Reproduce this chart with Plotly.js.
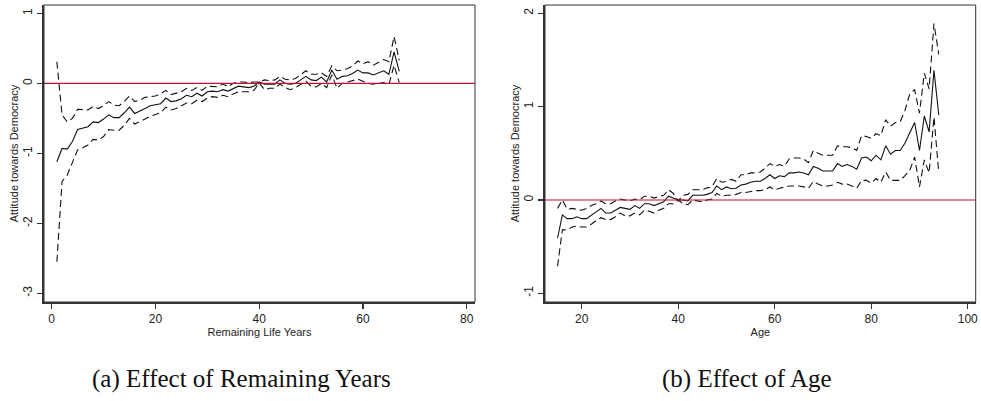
<!DOCTYPE html>
<html>
<head>
<meta charset="utf-8">
<script src="https://cdn.plot.ly/plotly-3.0.1.min.js"></script>
<style>html,body{margin:0;padding:0;background:#fff;}#chart{width:981px;height:401px;}</style>
</head>
<body>
<div id="chart"></div>
<script>
// Panel (a): effect of remaining life years
const remYears = [];
for (let i = 1; i <= 67; i++) remYears.push(i);
const remCoef = [-1.12,-0.93,-0.94,-0.83,-0.66,-0.64,-0.62,-0.55,-0.56,-0.51,
  -0.45,-0.49,-0.49,-0.42,-0.34,-0.43,-0.40,-0.36,-0.32,-0.31,
  -0.29,-0.21,-0.26,-0.25,-0.22,-0.17,-0.19,-0.14,-0.18,-0.12,
  -0.11,-0.12,-0.09,-0.11,-0.08,-0.04,-0.05,-0.06,-0.04,0.02,
  -0.01,-0.01,-0.01,0.05,0.00,-0.01,0.00,0.05,0.10,0.05,
  0.04,0.09,0.02,0.19,0.06,0.10,0.11,0.14,0.19,0.15,
  0.15,0.12,0.15,0.18,0.13,0.45,0.17];
const remUpper = [0.31,-0.45,-0.55,-0.50,-0.37,-0.38,-0.38,-0.33,-0.36,-0.32,
  -0.26,-0.31,-0.32,-0.26,-0.18,-0.26,-0.24,-0.20,-0.19,-0.18,
  -0.15,-0.10,-0.16,-0.14,-0.12,-0.07,-0.10,-0.06,-0.10,-0.04,
  -0.04,-0.05,-0.01,-0.05,0.00,0.02,0.02,0.01,0.02,0.02,
  0.05,0.04,0.05,0.10,0.06,0.05,0.07,0.12,0.18,0.13,
  0.13,0.15,0.10,0.25,0.18,0.19,0.21,0.25,0.32,0.28,
  0.31,0.26,0.30,0.34,0.31,0.67,0.33];
const remLower = [-2.55,-1.40,-1.31,-1.14,-0.95,-0.92,-0.88,-0.80,-0.81,-0.76,
  -0.66,-0.67,-0.67,-0.60,-0.50,-0.58,-0.55,-0.51,-0.47,-0.45,
  -0.42,-0.34,-0.38,-0.36,-0.32,-0.28,-0.29,-0.24,-0.26,-0.21,
  -0.19,-0.20,-0.17,-0.19,-0.15,-0.12,-0.12,-0.12,-0.10,0.01,
  -0.09,-0.07,-0.07,-0.01,-0.06,-0.09,-0.06,-0.02,0.03,-0.04,
  -0.05,0.00,-0.06,0.12,-0.07,0.00,0.02,0.04,0.06,0.03,
  0.00,-0.01,0.00,0.01,-0.02,0.26,0.01];

// Panel (b): effect of age
const ages = [];
for (let a = 15; a <= 94; a++) ages.push(a);
const ageCoef = [-0.41,-0.16,-0.20,-0.20,-0.18,-0.20,-0.20,-0.16,-0.13,-0.09,
  -0.14,-0.14,-0.11,-0.08,-0.09,-0.10,-0.06,-0.09,-0.04,-0.04,
  -0.06,-0.04,-0.02,0.04,0.02,0.00,0.00,-0.01,0.05,0.05,
  0.05,0.06,0.08,0.15,0.11,0.14,0.12,0.125,0.16,0.17,
  0.19,0.20,0.20,0.23,0.27,0.23,0.26,0.25,0.29,0.29,
  0.30,0.29,0.27,0.36,0.34,0.31,0.31,0.31,0.39,0.36,
  0.38,0.36,0.33,0.45,0.46,0.42,0.48,0.43,0.58,0.49,
  0.53,0.53,0.61,0.72,0.83,0.53,0.90,0.73,1.39,0.91];
const ageUpper = [-0.09,0.00,-0.10,-0.09,-0.10,-0.11,-0.09,-0.06,-0.04,-0.01,
  -0.04,-0.04,-0.01,0.01,0.00,-0.01,0.01,0.00,0.04,0.04,
  0.02,0.04,0.05,0.11,0.07,-0.01,0.05,0.06,0.11,0.11,
  0.11,0.13,0.14,0.23,0.19,0.20,0.22,0.20,0.27,0.27,
  0.29,0.29,0.30,0.34,0.39,0.36,0.38,0.36,0.44,0.45,
  0.45,0.44,0.40,0.53,0.50,0.48,0.48,0.48,0.58,0.57,
  0.57,0.56,0.53,0.69,0.68,0.66,0.71,0.69,0.86,0.79,
  0.83,0.84,0.96,1.14,1.18,0.93,1.36,1.19,1.89,1.56];
const ageLower = [-0.71,-0.32,-0.32,-0.29,-0.28,-0.29,-0.29,-0.26,-0.22,-0.19,
  -0.21,-0.21,-0.18,-0.14,-0.17,-0.17,-0.14,-0.16,-0.11,-0.12,
  -0.14,-0.11,-0.09,-0.04,-0.04,0.00,-0.04,-0.05,0.00,-0.01,
  -0.02,0.00,0.01,0.07,0.04,0.05,0.05,0.06,0.08,0.08,
  0.09,0.10,0.10,0.11,0.14,0.11,0.125,0.14,0.15,0.15,
  0.15,0.14,0.125,0.20,0.17,0.15,0.15,0.16,0.19,0.17,
  0.17,0.15,0.125,0.21,0.21,0.18,0.23,0.19,0.30,0.21,
  0.21,0.21,0.26,0.32,0.46,0.14,0.43,0.29,0.89,0.29];

const xTicksA = [0,20,40,60,80];
const yTicksA = [-3,-2,-1,0,1];
const xTicksB = [20,40,60,80,100];
const yTicksB = [-1,0,1,2];

const solid = {color:'#111', width:1.1};
const dashed = {color:'#111', width:1.1, dash:'7px,4px'};

const traces = [
  {x:remYears, y:remUpper, xaxis:'x', yaxis:'y', mode:'lines', line:dashed},
  {x:remYears, y:remLower, xaxis:'x', yaxis:'y', mode:'lines', line:dashed},
  {x:remYears, y:remCoef, xaxis:'x', yaxis:'y', mode:'lines', line:solid},
  {x:ages, y:ageUpper, xaxis:'x2', yaxis:'y2', mode:'lines', line:dashed},
  {x:ages, y:ageLower, xaxis:'x2', yaxis:'y2', mode:'lines', line:dashed},
  {x:ages, y:ageCoef, xaxis:'x2', yaxis:'y2', mode:'lines', line:solid}
];

const tickFont = {family:'Liberation Sans, Arial, sans-serif', size:12, color:'#222'};
const titleFont = {family:'Liberation Sans, Arial, sans-serif', size:11, color:'#222'};
function xa(domain, range, ticks, title, anchor){
  return {domain:domain, range:range, tickvals:ticks, ticktext:ticks.map(String),
    ticks:'outside', ticklen:5, tickwidth:1.2, tickcolor:'#333',
    showline:true, linewidth:2, linecolor:'#333', showgrid:false, zeroline:false,
    tickfont:tickFont, anchor:anchor,
    title:{text:title, font:titleFont, standoff:3}};
}
function ya(domain, range, ticks, title, anchor){
  return {domain:domain, range:range, tickvals:ticks, ticktext:ticks.map(String),
    ticks:'outside', ticklen:5, tickwidth:1.2, tickcolor:'#333', tickangle:-90,
    showline:true, linewidth:2, linecolor:'#333', showgrid:false, zeroline:false,
    tickfont:tickFont, anchor:anchor,
    title:{text:title, font:titleFont, standoff:0}};
}
const yDom = [99/401, 396/401];
const layout = {
  width:981, height:401,
  margin:{l:0, r:0, t:0, b:0},
  paper_bgcolor:'#fff', plot_bgcolor:'#fff',
  showlegend:false,
  xaxis: xa([44/981, 475/981], [-1.48, 81.6], xTicksA, 'Remaining Life Years', 'y'),
  yaxis: ya(yDom, [-3.124, 1.12], yTicksA, 'Attitude towards Democracy', 'x'),
  xaxis2: xa([545/981, 975.7/981], [12.4, 101.65], xTicksB, 'Age', 'y2'),
  yaxis2: ya(yDom, [-1.093, 2.089], yTicksB, 'Attitude towards Democracy', 'x2'),
  shapes: [
    {type:'line', xref:'x domain', yref:'y', x0:0, x1:1, y0:0, y1:0, line:{color:'#c8102e', width:1.2}},
    {type:'line', xref:'x2 domain', yref:'y2', x0:0, x1:1, y0:0, y1:0, line:{color:'#c8102e', width:1.2}},
    {type:'rect', xref:'x domain', yref:'y domain', x0:0, x1:1, y0:0, y1:1, line:{color:'#333', width:1}},
    {type:'rect', xref:'x2 domain', yref:'y2 domain', x0:0, x1:1, y0:0, y1:1, line:{color:'#333', width:1}}
  ],
  annotations: [
    {text:'(a) Effect of Remaining Years', xref:'paper', yref:'paper', x:241.7/981, y:(401-379)/401,
      xanchor:'center', yanchor:'middle', showarrow:false,
      font:{family:'Liberation Serif, Times New Roman, serif', size:25, color:'#111'}},
    {text:'(b) Effect of Age', xref:'paper', yref:'paper', x:746.7/981, y:(401-379)/401,
      xanchor:'center', yanchor:'middle', showarrow:false,
      font:{family:'Liberation Serif, Times New Roman, serif', size:25, color:'#111'}}
  ]
};
Plotly.newPlot('chart', traces, layout, {displayModeBar:false, staticPlot:true});
</script>
</body>
</html>
